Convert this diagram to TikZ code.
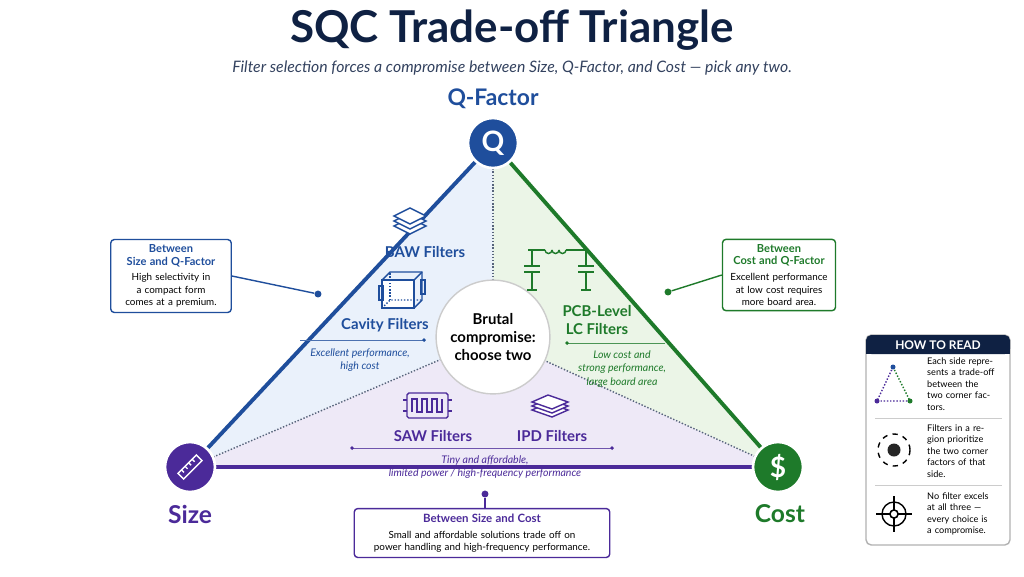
\documentclass[tikz,border=0pt]{standalone}
\usepackage{fontspec}
\setmainfont{Lato}
\usetikzlibrary{positioning,calc}
\definecolor{qblue}{HTML}{1F4E9C}
\definecolor{sizepurple}{HTML}{4B2A99}
\definecolor{costgreen}{HTML}{1E7A2A}
\definecolor{navy}{HTML}{0F2143}
\definecolor{fblue}{HTML}{EAF1FB}
\definecolor{fgreen}{HTML}{EBF5E7}
\definecolor{fpurple}{HTML}{EEE9F7}
\tikzset{
  corner/.style={circle, draw=white, line width=1.5pt, minimum size=1.0cm, text=white, font=\bfseries\fontsize{16}{16}\selectfont},
  side box/.style={draw, rounded corners=2pt, thick, fill=white, align=center, inner sep=3pt, font=\fontsize{5.6}{7}\selectfont},
  flabel/.style={font=\bfseries\fontsize{8.5}{10}\selectfont, align=center},
  fnote/.style={font=\itshape\fontsize{6}{7.5}\selectfont, align=center},
  divider/.style={densely dotted, thick, navy!70},
  pin dot/.style={circle, fill, inner sep=1.4pt},
  read text/.style={font=\fontsize{5.2}{6.5}\selectfont, align=left, text width=1.35cm, anchor=west}
}
\begin{document}
\begin{tikzpicture}[x=0.02cm,y=-0.02cm]
  \useasboundingbox (0,0) rectangle (1024,576);
  \fill[white] (0,0) rectangle (1024,576);

  % Title
  \node[font=\bfseries\fontsize{25}{28}\selectfont, text=navy] (title) at (512,30) {SQC Trade-off Triangle};
  \node[font=\itshape\fontsize{9}{11}\selectfont, text=navy!85] (subtitle) at (512,68) {Filter selection forces a compromise between Size, Q-Factor, and Cost --- pick any two.};

  % Corner points
  \coordinate (q) at (493,143);
  \coordinate (s) at (190,467);
  \coordinate (c) at (778,467);
  \coordinate (mid) at (493,337);

  % Regions
  \fill[fblue] (q) -- (s) -- (mid) -- cycle;
  \fill[fgreen] (q) -- (c) -- (mid) -- cycle;
  \fill[fpurple] (s) -- (c) -- (mid) -- cycle;
  \draw[divider] (q) -- (mid);
  \draw[divider] (s) -- (mid);
  \draw[divider] (c) -- (mid);

  % Sides
  \draw[qblue, line width=2.2pt] (s) -- (q);
  \draw[costgreen, line width=2.2pt] (q) -- (c);
  \draw[sizepurple, line width=2.2pt] (s) -- (c);

  % Centre
  \node[circle, draw=gray!40, thick, fill=white, minimum size=1.9cm, align=center, font=\bfseries\fontsize{8.5}{10.5}\selectfont] (brutal) at (mid) {Brutal\\compromise:\\choose two};

  % Corners
  \node[corner, fill=qblue] (qnode) at (q) {Q};
  \node[corner, fill=sizepurple] (snode) at (s) {};
  \node[corner, fill=costgreen] (cnode) at (c) {\$};
  \begin{scope}[shift={(190,467)}, rotate=45, white, thick]
    \draw (-13,-4) rectangle (13,4);
    \foreach \t in {-8,-3,2,7} \draw (\t,-4) -- (\t,-0.5);
  \end{scope}
  \node[font=\bfseries\fontsize{13}{15}\selectfont, text=qblue, above=1pt of qnode] (qlabel) {Q-Factor};
  \node[font=\bfseries\fontsize{14}{16}\selectfont, text=sizepurple] (slabel) at (190,514) {Size};
  \node[font=\bfseries\fontsize{14}{16}\selectfont, text=costgreen] (clabel) at (780,514) {Cost};

  % BAW icon
  \begin{scope}[qblue, thick, fill=white]
    \foreach \dy in {10,5,0}
      \filldraw[shift={(410,216+\dy)}] (-16,0) -- (0,-8) -- (16,0) -- (0,8) -- cycle;
  \end{scope}
  \node[flabel, text=qblue] (baw) at (425,252) {BAW Filters};

  % Cavity icon
  \begin{scope}[qblue, thick]
    \draw[fill=white] (382,280) rectangle (414,308);
    \draw (382,280) -- (390,272) -- (422,272) -- (422,300) -- (414,308);
    \draw (414,280) -- (422,272);
    \draw[densely dotted] (382,308) -- (390,300) -- (422,300);
    \draw[densely dotted] (390,300) -- (390,272);
    \draw (379,286) rectangle (383,300);
    \draw (421,280) rectangle (425,294);
  \end{scope}
  \node[flabel, text=qblue] (cavity) at (385,325) {Cavity Filters};
  \draw[qblue!80] (300,340) -- (424,340);
  \node[pin dot, qblue, inner sep=0.8pt] at (424,340) {};
  \node[fnote, text=qblue] (cavnote) at (360,360) {Excellent performance,\\high cost};

  % LC icon
  \begin{scope}[costgreen, thick]
    \draw (528,250) -- (545,250);
    \foreach \i in {0,1,2} \draw (545+7*\i,250) arc (180:0:3.5);
    \draw (566,250) -- (586,250);
    \foreach \xx in {532,586} {
      \draw (\xx,250) -- (\xx,266);
      \draw (\xx-8,266) -- (\xx+8,266);
      \draw (\xx-8,272) -- (\xx+8,272);
      \draw (\xx,272) -- (\xx,290);
      \draw (\xx-5,290) -- (\xx+5,290);
    }
  \end{scope}
  \node[flabel, text=costgreen] (pcb) at (597,320) {PCB-Level\\LC Filters};
  \draw[costgreen!80] (567,343) -- (665,343);
  \node[pin dot, costgreen, inner sep=0.8pt] at (567,343) {};
  \node[fnote, text=costgreen] (pcbnote) at (622,369) {Low cost and\\strong performance,\\large board area};

  % SAW icon
  \begin{scope}[sizepurple, thick]
    \draw[rounded corners=1pt] (407,393) rectangle (448,418);
    \draw (403,400) -- (407,400) (403,411) -- (407,411) (448,400) -- (452,400) (448,411) -- (452,411);
    \draw (412,412) -- (412,399) -- (417,399) -- (417,412) -- (422,412) -- (422,399) -- (427,399) -- (427,412) -- (432,412) -- (432,399) -- (437,399) -- (437,412) -- (442,412) -- (442,399);
  \end{scope}
  \node[flabel, text=sizepurple] (saw) at (433,436) {SAW Filters};

  % IPD icon
  \begin{scope}[sizepurple, thick, fill=white]
    \foreach \dy in {8,4,0}
      \filldraw[shift={(550,402+\dy)}] (-18,0) -- (-2,-7) -- (18,0) -- (2,7) -- cycle;
  \end{scope}
  \node[flabel, text=sizepurple] (ipd) at (552,436) {IPD Filters};
  \draw[sizepurple!80] (352,448) -- (612,448);
  \node[pin dot, sizepurple, inner sep=0.8pt] at (352,448) {};
  \node[pin dot, sizepurple, inner sep=0.8pt] at (612,448) {};
  \node[fnote, text=sizepurple] (sawnote) at (485,467) {Tiny and affordable,\\limited power / high-frequency performance};

  % Side boxes
  \node[side box, draw=qblue, text width=2.2cm] (leftbox) at (171,276) {\textcolor{qblue}{\bfseries\fontsize{6.3}{8}\selectfont Between\\Size and Q-Factor}\\[2pt]High selectivity in a compact form comes at a premium.};
  \node[pin dot, qblue] (ldot) at (318,294) {};
  \draw[qblue, thick] (leftbox.east) -- (ldot);

  \node[side box, draw=costgreen, text width=2.05cm] (rightbox) at (779,275) {\textcolor{costgreen}{\bfseries\fontsize{6.3}{8}\selectfont Between\\Cost and Q-Factor}\\[2pt]Excellent performance at low cost requires more board area.};
  \node[pin dot, costgreen] (rdot) at (668,292) {};
  \draw[costgreen, thick] (rightbox.west) -- (rdot);

  \node[side box, draw=sizepurple, text width=4.9cm] (botbox) at (482,533) {\textcolor{sizepurple}{\bfseries\fontsize{6.5}{8}\selectfont Between Size and Cost}\\[2pt]Small and affordable solutions trade off on\\power handling and high-frequency performance.};
  \node[pin dot, sizepurple] (bdot) at (485,494) {};
  \draw[sizepurple, thick] (bdot) -- (bdot |- botbox.north);

  % How to read panel
  \draw[rounded corners=3pt, draw=gray!60, thick, fill=white] (866,335) rectangle (1010,545);
  \fill[navy, rounded corners=3pt] (866,335) rectangle (1010,354);
  \fill[navy] (866,345) rectangle (1010,354);
  \node[text=white, font=\bfseries\fontsize{6.8}{8}\selectfont] (howto) at (938,345) {HOW TO READ};
  \draw[gray!40] (875,418) -- (1002,418);
  \draw[gray!40] (875,485) -- (1002,485);
  % row 1
  \coordinate (rq) at (893,367);
  \coordinate (rs) at (877,401);
  \coordinate (rc) at (910,401);
  \draw[densely dotted, thick, sizepurple] (rq) -- (rs) -- (rc);
  \draw[densely dotted, thick, costgreen] (rq) -- (rc);
  \fill[qblue] (rq) circle (2.5);
  \fill[sizepurple] (rs) circle (2.5);
  \fill[costgreen] (rc) circle (2.5);
  \node[read text] (read1) at (921,384) {Each side represents a trade-off between the two corner factors.};
  % row 2
  \draw[dashed, thick] (894,450) circle (16);
  \fill[black!85] (894,450) circle (6.5);
  \node[read text] (read2) at (921,451) {Filters in a region prioritize the two corner factors of that side.};
  % row 3
  \draw[thick] (894,514) circle (12) (894,514) circle (4);
  \draw[thick] (876,514) -- (912,514) (894,496) -- (894,532);
  \fill[white] (894,514) circle (3.5);
  \draw[thick] (894,514) circle (4);
  \node[read text] (read3) at (921,514) {No filter excels at all three --- every choice is a compromise.};
\end{tikzpicture}
\end{document}
